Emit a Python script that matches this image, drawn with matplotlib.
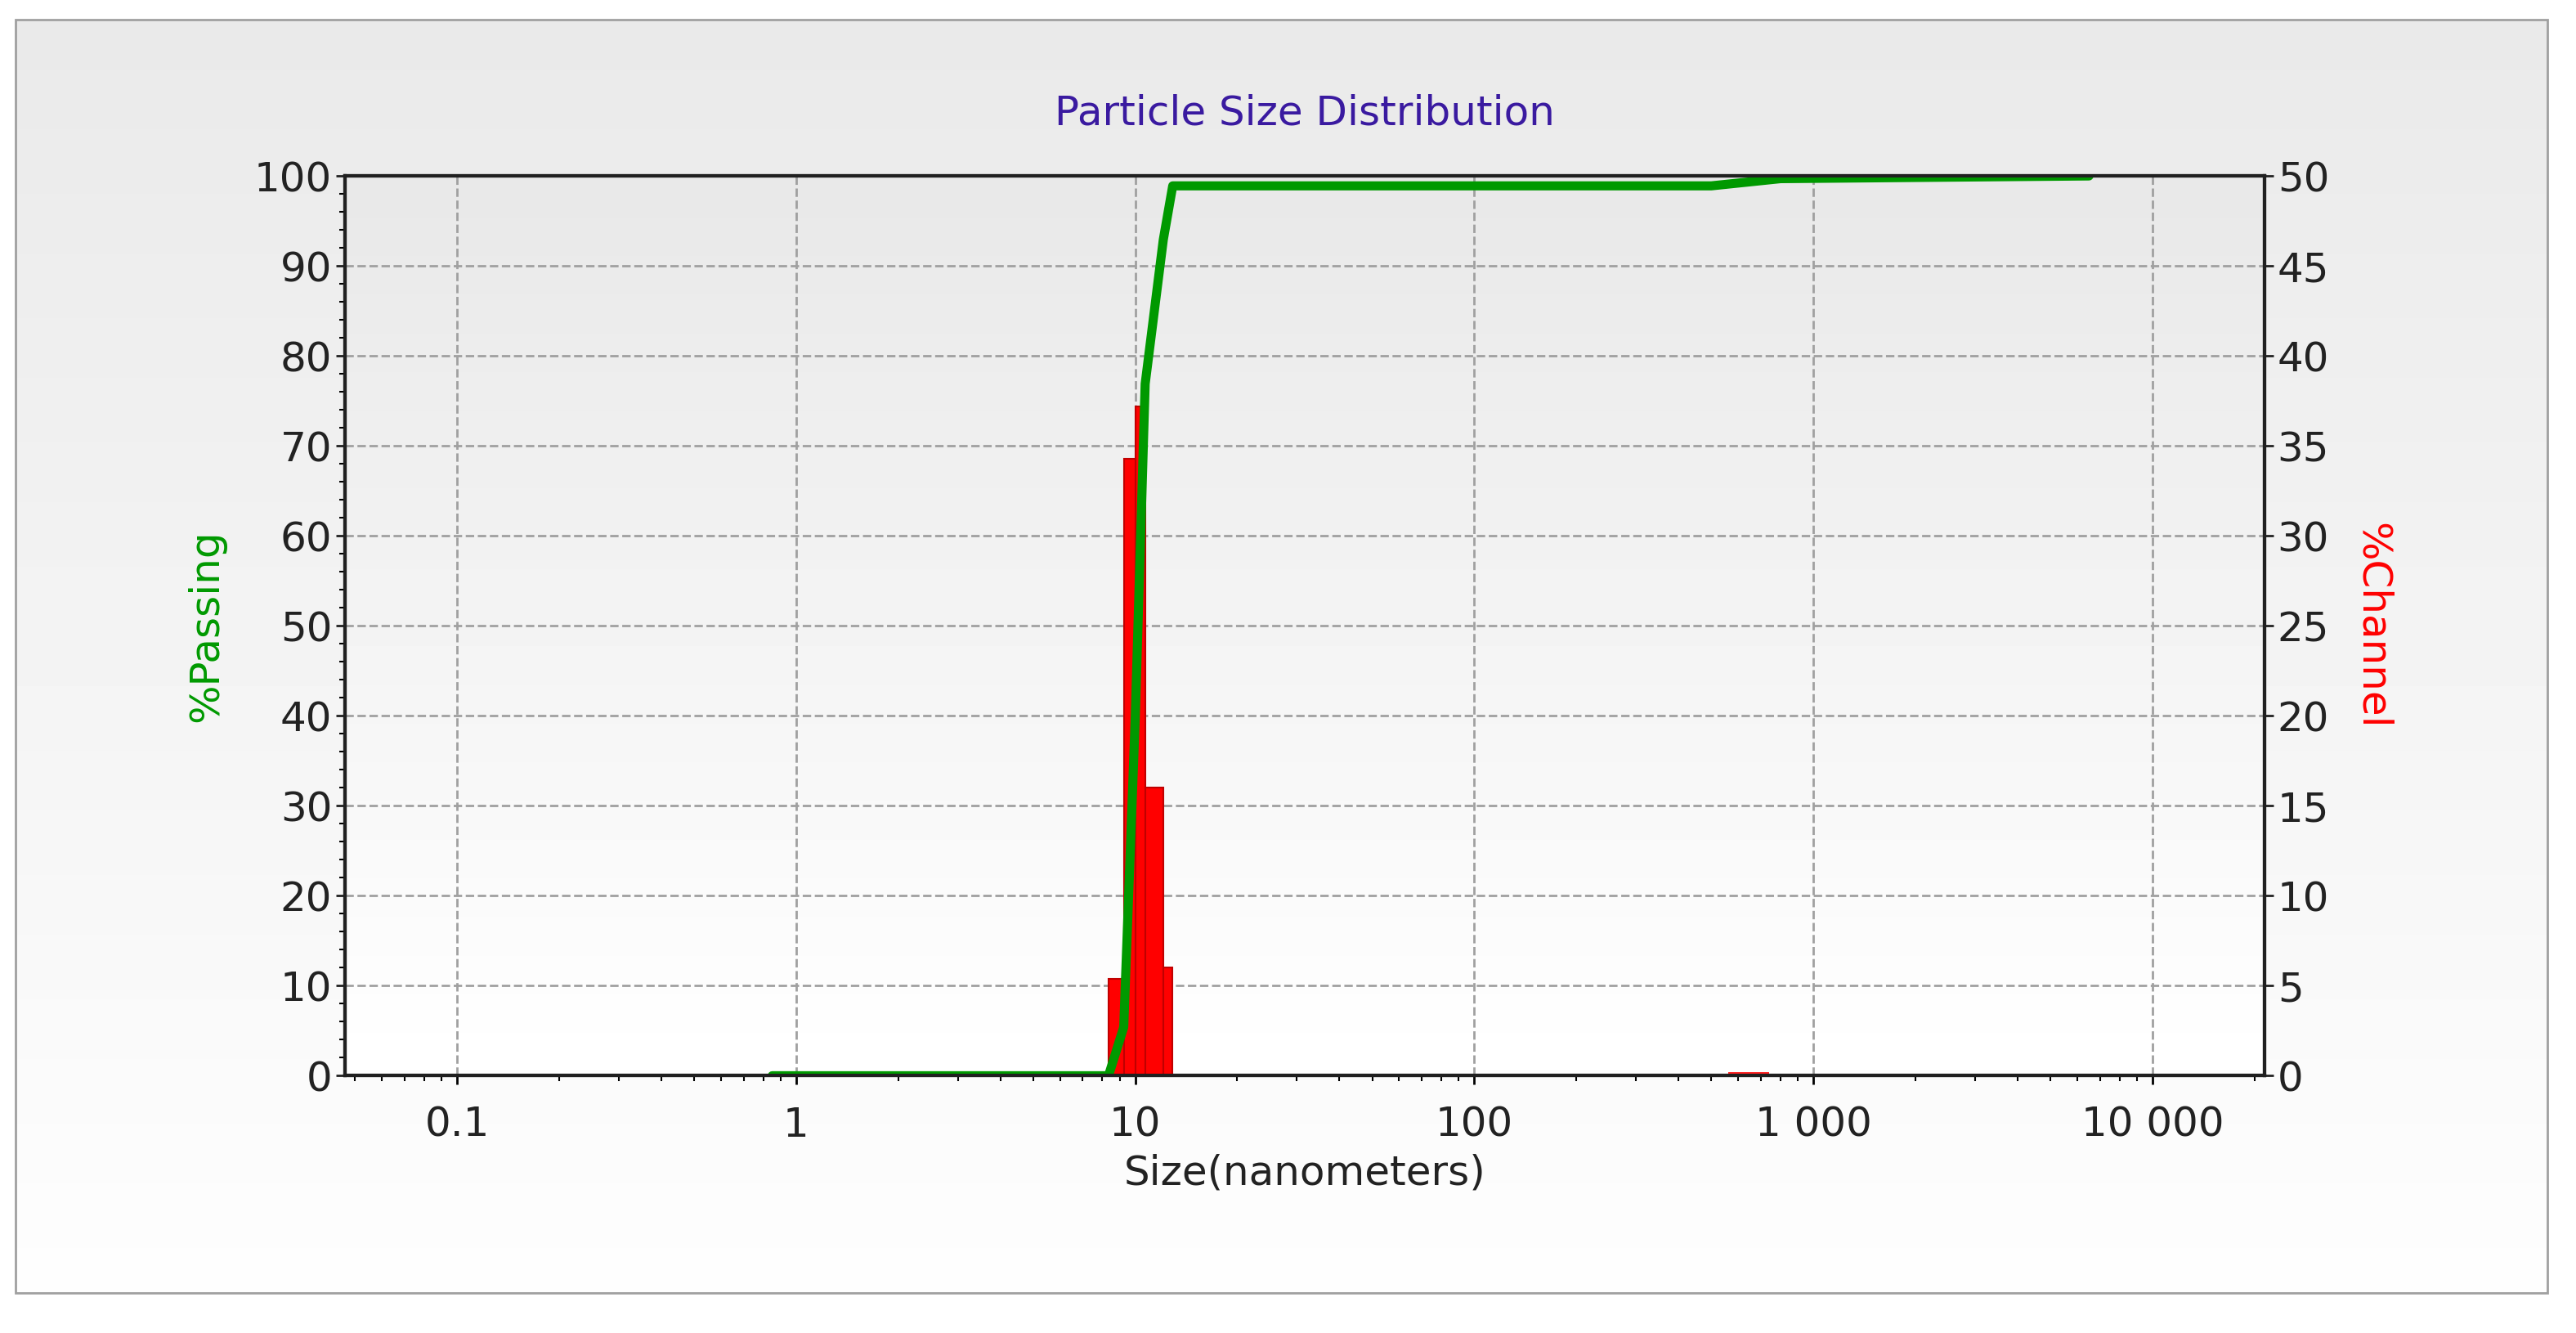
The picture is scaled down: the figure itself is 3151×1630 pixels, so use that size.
import matplotlib.pyplot as plt
import matplotlib.ticker as mticker
import numpy as np
from matplotlib.patches import Rectangle

# channel data (%Channel, right axis)
bin_edges = [8.34, 9.25, 10.0, 10.7, 12.1, 12.9]
channel_pct = [5.4, 34.3, 37.2, 16.0, 6.0]
coarse_edges = [560, 740]
coarse_pct = [0.2]

# cumulative passing curve (%Passing, left axis)
passing_size = [0.85, 8.34, 9.25, 10.0, 10.7, 12.1, 12.9, 14.0, 500, 800, 6500]
passing_pct = [0.0, 0.0, 5.4, 39.7, 76.9, 92.9, 98.9, 98.9, 98.9, 99.7, 100]

x_ticks = [0.1, 1, 10, 100, 1000, 10000]
x_labels = ['0.1', '1', '10', '100', '1 000', '10 000']

fig = plt.figure(figsize=(31.51, 16.30), dpi=100)
fig.patch.set_facecolor('white')

# page background: grey at top fading to white at the bottom
bgax = fig.add_axes([0.006, 0.03, 0.983, 0.955])
bgax.imshow(np.linspace(0.995, 0.915, 256).reshape(-1, 1), extent=[0, 1, 0, 1],
            origin='lower', cmap='gray', vmin=0, vmax=1, aspect='auto')
bgax.set_axis_off()
fig.add_artist(Rectangle((0.006, 0.03), 0.983, 0.955, transform=fig.transFigure,
                         facecolor='none', edgecolor='#a0a0a0', lw=2))

ax2 = fig.add_axes([0.134, 0.193, 0.745, 0.675])
ax = ax2.twinx()
ax.set_zorder(ax2.get_zorder() + 1)
ax.patch.set_visible(False)

ax2.imshow(np.linspace(1.0, 0.91, 256).reshape(-1, 1), extent=[0, 1, 0, 1],
           origin='lower', transform=ax2.transAxes, cmap='gray',
           vmin=0, vmax=1, aspect='auto', zorder=0)
ax2.set_xscale('log')
ax2.set_xlim(10**-1.33, 10**4.33)
ax2.set_ylim(0, 50)

lefts = bin_edges[:-1]
widths = np.diff(bin_edges)
ax2.bar(lefts, channel_pct, width=widths, align='edge', color='#ff0000',
        edgecolor='#c00000', lw=1.5, zorder=3)
ax2.bar(coarse_edges[:-1], coarse_pct, width=np.diff(coarse_edges), align='edge',
        color='#ff2020', zorder=3)

ax2.grid(True, which='major', color='#a0a0a0', ls='--', lw=2, zorder=1)
ax2.set_axisbelow(True)

ax.plot(passing_size, passing_pct, color='#009900', lw=8, solid_capstyle='round')
ax.set_ylim(0, 100)

# ax2 is the bottom axes but its y axis should be on the right
ax2.yaxis.tick_right()
ax2.yaxis.set_label_position('right')
ax.yaxis.tick_left()
ax.yaxis.set_label_position('left')

fs = 36
ax2.set_xticks(x_ticks)
ax2.set_xticklabels(x_labels, fontsize=fs, color='#222222')
ax2.set_yticks(range(0, 51, 5))
ax2.tick_params(axis='y', labelsize=fs, colors='#222222', length=8, width=2)
ax2.tick_params(axis='x', length=8, width=2, pad=18)
ax2.tick_params(axis='x', which='minor', length=5, width=1.5)
ax.set_yticks(range(0, 101, 10))
ax.yaxis.set_minor_locator(mticker.MultipleLocator(2))
ax.tick_params(axis='y', labelsize=fs, colors='#222222', length=8, width=2)
ax.tick_params(axis='y', which='minor', length=5, width=1.5)

for a in (ax, ax2):
    for s in a.spines.values():
        s.set_linewidth(3)
        s.set_color('#202020')

ax.set_ylabel('%Passing', color='#009900', fontsize=fs, labelpad=25)
ax2.set_ylabel('%Channel', color='#ff0000', fontsize=fs, rotation=270, labelpad=55)
ax2.set_xlabel('Size(nanometers)', fontsize=fs, color='#222222', labelpad=8)
ax2.set_title('Particle Size Distribution', fontsize=fs, color='#3a1aa0', pad=45)

fig.savefig('out.png', dpi=100, facecolor=fig.get_facecolor())
